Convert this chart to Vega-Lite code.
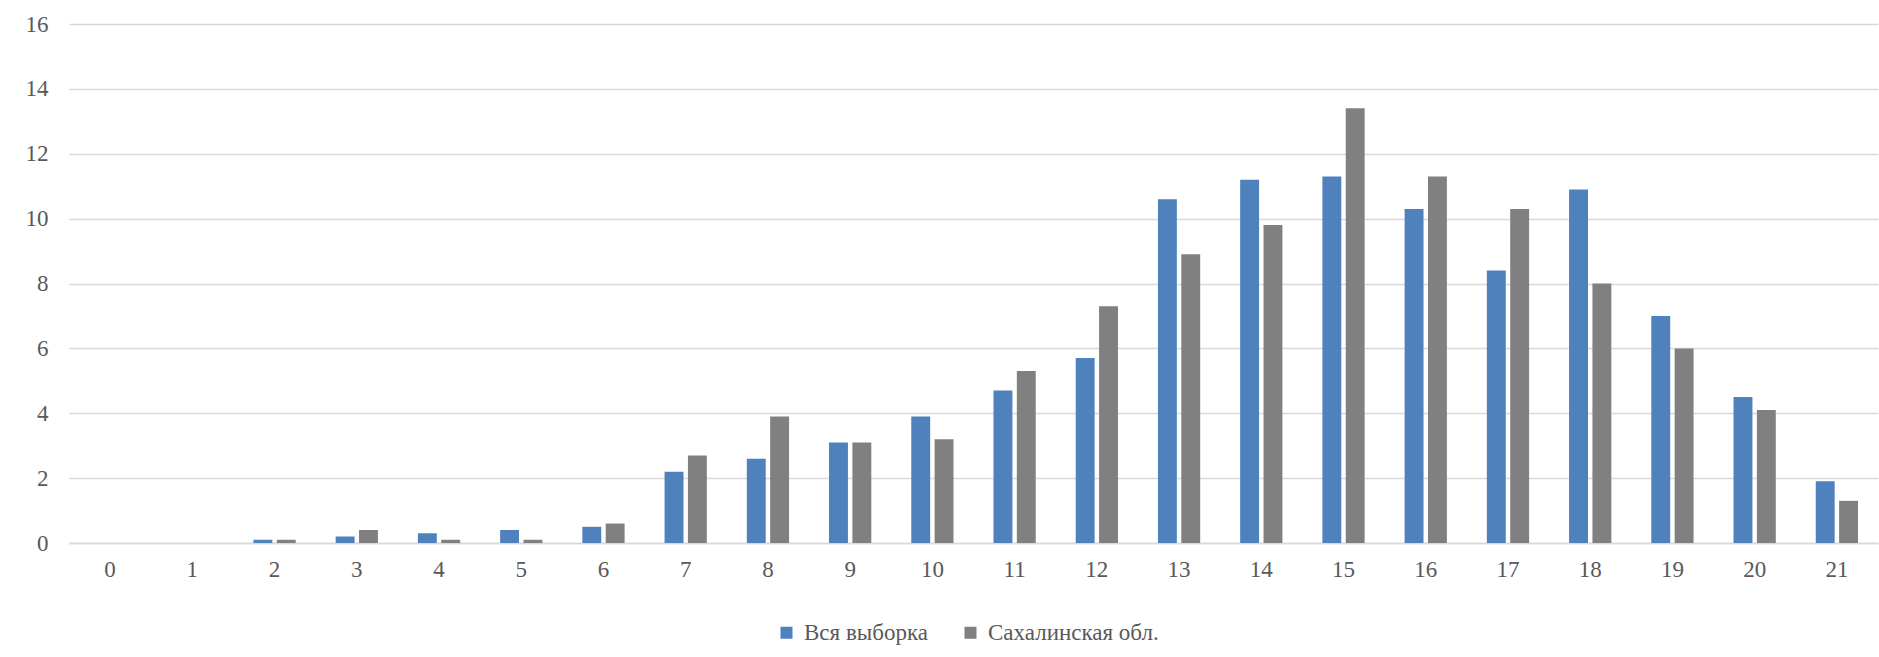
{
  "$schema": "https://vega.github.io/schema/vega-lite/v6.json",
  "autosize": {"type": "none"},
  "width": 1809,
  "height": 519,
  "padding": {"left": 69, "top": 24, "right": 1, "bottom": 114},
  "background": "white",
  "config": {
    "view": {"stroke": null},
    "font": "Liberation Serif",
    "axis": {"labelFont": "Liberation Serif", "labelColor": "#595959", "labelFontSize": 23},
    "legend": {"labelFont": "DejaVu Serif", "labelColor": "#595959", "labelFontSize": 23, "labelLimit": 500}
  },
  "data": {
    "values": [
      {"k": 0, "s": "Вся выборка", "v": 0}, {"k": 0, "s": "Сахалинская обл.", "v": 0},
      {"k": 1, "s": "Вся выборка", "v": 0}, {"k": 1, "s": "Сахалинская обл.", "v": 0},
      {"k": 2, "s": "Вся выборка", "v": 0.1}, {"k": 2, "s": "Сахалинская обл.", "v": 0.1},
      {"k": 3, "s": "Вся выборка", "v": 0.2}, {"k": 3, "s": "Сахалинская обл.", "v": 0.4},
      {"k": 4, "s": "Вся выборка", "v": 0.3}, {"k": 4, "s": "Сахалинская обл.", "v": 0.1},
      {"k": 5, "s": "Вся выборка", "v": 0.4}, {"k": 5, "s": "Сахалинская обл.", "v": 0.1},
      {"k": 6, "s": "Вся выборка", "v": 0.5}, {"k": 6, "s": "Сахалинская обл.", "v": 0.6},
      {"k": 7, "s": "Вся выборка", "v": 2.2}, {"k": 7, "s": "Сахалинская обл.", "v": 2.7},
      {"k": 8, "s": "Вся выборка", "v": 2.6}, {"k": 8, "s": "Сахалинская обл.", "v": 3.9},
      {"k": 9, "s": "Вся выборка", "v": 3.1}, {"k": 9, "s": "Сахалинская обл.", "v": 3.1},
      {"k": 10, "s": "Вся выборка", "v": 3.9}, {"k": 10, "s": "Сахалинская обл.", "v": 3.2},
      {"k": 11, "s": "Вся выборка", "v": 4.7}, {"k": 11, "s": "Сахалинская обл.", "v": 5.3},
      {"k": 12, "s": "Вся выборка", "v": 5.7}, {"k": 12, "s": "Сахалинская обл.", "v": 7.3},
      {"k": 13, "s": "Вся выборка", "v": 10.6}, {"k": 13, "s": "Сахалинская обл.", "v": 8.9},
      {"k": 14, "s": "Вся выборка", "v": 11.2}, {"k": 14, "s": "Сахалинская обл.", "v": 9.8},
      {"k": 15, "s": "Вся выборка", "v": 11.3}, {"k": 15, "s": "Сахалинская обл.", "v": 13.4},
      {"k": 16, "s": "Вся выборка", "v": 10.3}, {"k": 16, "s": "Сахалинская обл.", "v": 11.3},
      {"k": 17, "s": "Вся выборка", "v": 8.4}, {"k": 17, "s": "Сахалинская обл.", "v": 10.3},
      {"k": 18, "s": "Вся выборка", "v": 10.9}, {"k": 18, "s": "Сахалинская обл.", "v": 8.0},
      {"k": 19, "s": "Вся выборка", "v": 7.0}, {"k": 19, "s": "Сахалинская обл.", "v": 6.0},
      {"k": 20, "s": "Вся выборка", "v": 4.5}, {"k": 20, "s": "Сахалинская обл.", "v": 4.1},
      {"k": 21, "s": "Вся выборка", "v": 1.9}, {"k": 21, "s": "Сахалинская обл.", "v": 1.3}
    ]
  },
  "mark": {"type": "bar"},
  "encoding": {
    "x": {
      "field": "k", "type": "ordinal",
      "scale": {"paddingInner": 0.486, "paddingOuter": 0.243},
      "axis": {
        "title": null, "labelAngle": 0, "ticks": false, "domain": true,
        "domainColor": "#D9D9D9", "domainWidth": 1.4, "labelPadding": 15, "grid": false,
        "labelFont": "Liberation Serif"
      }
    },
    "xOffset": {
      "field": "s", "type": "nominal",
      "sort": ["Вся выборка", "Сахалинская обл."],
      "scale": {"paddingInner": 0.19, "paddingOuter": 0}
    },
    "y": {
      "field": "v", "type": "quantitative",
      "scale": {"domain": [0, 16], "nice": false},
      "axis": {
        "title": null, "values": [0, 2, 4, 6, 8, 10, 12, 14, 16], "ticks": false,
        "domain": false, "grid": true, "gridColor": "#D9D9D9", "gridWidth": 1.4,
        "labelPadding": 21, "labelFont": "Liberation Serif"
      }
    },
    "color": {
      "field": "s", "type": "nominal",
      "scale": {"domain": ["Вся выборка", "Сахалинская обл."], "range": ["#4F81BD", "#808080"]},
      "legend": {
        "title": null, "orient": "none", "direction": "horizontal",
        "legendX": 706, "legendY": 597, "padding": 0,
        "symbolType": "square", "symbolSize": 144, "symbolStrokeWidth": 0,
        "labelOffset": 6, "columnPadding": 31, "labelLimit": 500, "labelFont": "Liberation Serif"
      }
    }
  }
}
